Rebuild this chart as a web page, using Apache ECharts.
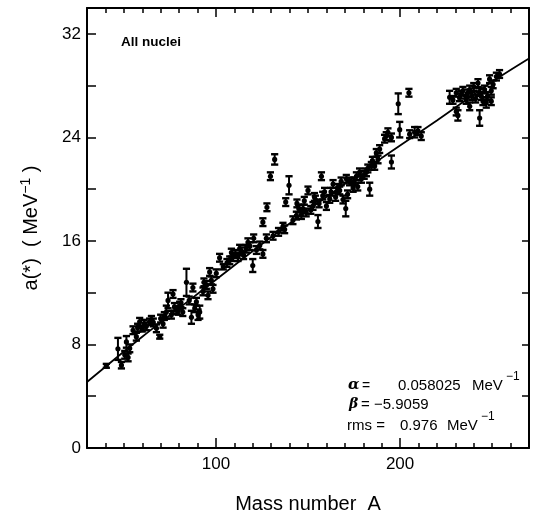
<!DOCTYPE html>
<html>
<head>
<meta charset="utf-8">
<script src="https://cdn.jsdelivr.net/npm/echarts@6/dist/echarts.min.js"></script>
<style>
  html, body { margin: 0; padding: 0; background: #fff; }
  #main { width: 536px; height: 519px; }
</style>
</head>
<body>
<div id="main"></div>
<script>
// mass number of each nucleus
var massA = [
  40.5, 46.8, 48.7, 50.5, 51.4, 52.3, 53.2, 55, 56.8, 58.6,
  60, 62.2, 64, 65, 67.7, 69.5, 71.3, 73.1, 74, 75.8,
  76.7, 78.5, 80.3, 82, 84, 86.7, 87.5, 88.5, 89.4, 90.3,
  91.2, 93, 93.5, 94.8, 95.7, 96.6, 97.5, 98.4, 100.2, 102,
  104, 107.5, 108.4, 109.3, 112, 112.9, 115, 116.5, 117.4, 120,
  120.5, 122, 123.8, 125.5, 125.5, 127.4, 127.7, 129.6, 131.9, 131,
  134, 136.4, 137.3, 137.9, 139.7, 141.8, 143.7, 145, 146.4, 147.3,
  148, 150, 151.5, 152.7, 154, 155.4, 157.3, 158, 160, 161.8,
  163.6, 165, 167.2, 169, 170.5, 170.8, 172.6, 174.5, 176.3, 178,
  179, 181.7, 183.5, 184.4, 186.2, 187.1, 188, 188.9, 191.6, 192.5,
  193.4, 195.3, 195.3, 199, 199.8, 204.8, 205.2, 207.9, 209.7, 211.5,
  226.9, 228.7, 230.5, 230.5, 231.4, 232.3, 234.1, 235.9, 237.8, 237.8,
  239, 241, 242.3, 243.2, 244.1, 245, 245.9, 246.8, 248.6, 249.5,
  249.5, 252.3, 254,
  106, 110.5, 114, 118.5, 144, 149, 153.5, 156, 159, 162.5,
  166, 168, 171.5, 175, 177, 180.5, 182.5, 185, 57.5, 61,
  66, 70, 72, 77.5, 79.5, 81, 85.5, 233, 236.5, 240,
  243, 247.5, 250.5
];
// level density parameter a(*) in MeV^-1
var aValue = [
  6.35, 7.66, 6.4, 7.2, 8.2, 7.0, 7.7, 9.1, 8.6, 9.75,
  9.2, 9.4, 9.75, 9.9, 9.25, 8.6, 9.6, 10.5, 11.4, 10.3,
  11.9, 10.65, 11.0, 10.5, 12.8, 10.1, 12.4, 10.8, 11.3, 10.3,
  10.5, 12.1, 12.8, 12.6, 11.8, 13.6, 12.95, 12.3, 13.5, 14.7,
  14.0, 14.5, 15.1, 14.75, 14.75, 15.4, 14.9, 15.4, 15.9, 14.1,
  16.2, 15.3, 15.65, 17.45, 15.0, 16.2, 18.6, 21.0, 22.3, 16.4,
  16.7, 17.1, 16.9, 19.0, 20.3, 17.6, 17.96, 18.5, 18.0, 18.5,
  19.1, 19.9, 18.4, 18.7, 19.2, 17.5, 21.0, 19.5, 18.7, 19.25,
  20.4, 19.4, 19.9, 19.2, 18.5, 20.8, 20.6, 20.1, 21.0, 21.3,
  20.8, 21.3, 20.0, 21.8, 21.8, 22.8, 22.3, 23.1, 23.9, 24.1,
  24.4, 22.1, 24.0, 26.6, 24.6, 27.45, 24.25, 24.4, 24.5, 24.1,
  27.1, 26.9, 27.45, 26.0, 25.7, 27.1, 27.6, 26.9, 27.7, 26.4,
  27.2, 27.0, 28.2, 25.5, 27.2, 26.8, 27.7, 26.7, 28.5, 27.6,
  26.8, 28.7, 28.9,
  14.3, 15.0, 15.2, 15.6, 18.9, 18.2, 19.4, 18.9, 19.8, 19.8,
  20.1, 20.6, 19.6, 20.6, 20.2, 21.1, 21.6, 22.2, 9.3, 9.6,
  9.7, 10.0, 10.2, 10.9, 10.6, 11.2, 11.4, 27.3, 27.4, 27.9,
  27.5, 27.2, 28.1
];
// half length of each error bar
var aError = [
  0.15, 0.85, 0.25, 0.3, 0.45, 0.3, 0.3, 0.3, 0.3, 0.3,
  0.2, 0.3, 0.25, 0.3, 0.3, 0.15, 0.3, 0.5, 0.6, 0.3,
  0.3, 0.3, 0.3, 0.3, 1.05, 0.5, 0.3, 0.3, 0.3, 0.4,
  0.5, 0.3, 0.3, 0.3, 0.3, 0.3, 0.3, 0.3, 0.3, 0.3,
  0.2, 0.3, 0.3, 0.3, 0.3, 0.3, 0.3, 0.3, 0.3, 0.5,
  0.3, 0.3, 0.3, 0.3, 0.3, 0.3, 0.3, 0.3, 0.4, 0.3,
  0.3, 0.3, 0.3, 0.3, 0.7, 0.3, 0.3, 0.3, 0.3, 0.3,
  0.3, 0.3, 0.3, 0.3, 0.3, 0.5, 0.3, 0.3, 0.3, 0.3,
  0.3, 0.3, 0.3, 0.3, 0.6, 0.3, 0.3, 0.3, 0.3, 0.3,
  0.3, 0.3, 0.5, 0.3, 0.3, 0.3, 0.3, 0.3, 0.3, 0.3,
  0.3, 0.5, 0.3, 0.8, 0.6, 0.3, 0.3, 0.4, 0.3, 0.3,
  0.5, 0.3, 0.3, 0.3, 0.4, 0.3, 0.3, 0.3, 0.3, 0.3,
  0.3, 0.3, 0.3, 0.6, 0.3, 0.3, 0.3, 0.4, 0.3, 0.3,
  0.3, 0.3, 0.3,
  0.3, 0.3, 0.3, 0.3, 0.3, 0.3, 0.3, 0.3, 0.3, 0.3,
  0.3, 0.3, 0.3, 0.3, 0.3, 0.3, 0.3, 0.3, 0.3, 0.3,
  0.3, 0.3, 0.3, 0.3, 0.3, 0.3, 0.3, 0.3, 0.3, 0.3,
  0.3, 0.3, 0.3
];
// fitted curve
var fitA = [30, 60, 100, 130, 160, 190, 220, 250, 270];
var fitValue = [5.1, 8.6, 13.0, 16.3, 19.4, 22.4, 25.3, 28.3, 30.1];

var xMajor = [100, 200];
var yLabels = [0, 8, 16, 24, 32];

var points = massA.map(function (A, i) {
  return [A, aValue[i], aError[i]];
});

var myChart = echarts.init(document.getElementById('main'));

var tickLine = { color: '#000', width: 1.5 };
var frameLine = { show: true, lineStyle: { color: '#000', width: 2 } };
var font = 'Liberation Sans, Arial, sans-serif';

var option = {
  backgroundColor: '#fff',
  animation: false,
  grid: { left: 87, right: 7, top: 8, bottom: 69 },
  xAxis: [
    {
      type: 'value', position: 'bottom', min: 30, max: 270, interval: 10,
      axisLine: frameLine,
      axisTick: { inside: true, length: 5, lineStyle: tickLine },
      axisLabel: {
        margin: 8, fontSize: 17, color: '#000', fontFamily: font,
        formatter: function (v) { return xMajor.indexOf(v) >= 0 ? String(v) : ''; }
      },
      splitLine: { show: false },
      name: 'Mass number  A', nameLocation: 'middle', nameGap: 46,
      nameTextStyle: { fontSize: 20, color: '#000', fontFamily: font }
    },
    {
      type: 'value', position: 'bottom', min: 30, max: 270,
      axisLine: { show: false },
      axisTick: { inside: true, length: 10, customValues: xMajor, lineStyle: tickLine },
      axisLabel: { show: false },
      splitLine: { show: false }
    },
    {
      type: 'value', position: 'top', min: 30, max: 270, interval: 10,
      axisLine: frameLine,
      axisTick: { inside: true, length: 5, lineStyle: tickLine },
      axisLabel: { show: false },
      splitLine: { show: false }
    },
    {
      type: 'value', position: 'top', min: 30, max: 270,
      axisLine: { show: false },
      axisTick: { inside: true, length: 9, customValues: xMajor, lineStyle: tickLine },
      axisLabel: { show: false },
      splitLine: { show: false }
    }
  ],
  yAxis: [
    {
      type: 'value', position: 'left', min: 0, max: 34, interval: 4,
      axisLine: frameLine,
      axisTick: { inside: true, length: 9, lineStyle: tickLine },
      axisLabel: {
        margin: 6, fontSize: 17, color: '#000', fontFamily: font,
        formatter: function (v) { return yLabels.indexOf(v) >= 0 ? String(v) : ''; }
      },
      splitLine: { show: false },
      name: '{t|a(*)  ( MeV}{s|−1}{t| )}', nameLocation: 'middle', nameGap: 44,
      nameTextStyle: {
        rich: {
          t: { fontSize: 20, color: '#000', fontFamily: font },
          s: { fontSize: 14, color: '#000', fontFamily: font, verticalAlign: 'top', padding: [0, 0, 10, 0] }
        }
      }
    },
    {
      type: 'value', position: 'right', min: 0, max: 34, interval: 4,
      axisLine: frameLine,
      axisTick: { inside: true, length: 7, lineStyle: tickLine },
      axisLabel: { show: false },
      splitLine: { show: false }
    }
  ],
  graphic: [
    { type: 'text', left: 121, top: 35, style: { text: 'All nuclei', fontSize: 13.5, fontWeight: 'bold', fill: '#000', fontFamily: font } },
    { type: 'text', left: 348, top: 378, style: { text: 'α', fontSize: 15, fontStyle: 'italic', fontWeight: 'bold', fill: '#000', fontFamily: 'DejaVu Serif' } },
    { type: 'text', left: 362, top: 379, style: { text: '=', fontSize: 14, fill: '#000', fontFamily: font } },
    { type: 'text', left: 398, top: 378, style: { text: '0.058025', fontSize: 15, fill: '#000', fontFamily: font } },
    { type: 'text', left: 472, top: 378, style: { text: 'MeV', fontSize: 15, fill: '#000', fontFamily: font } },
    { type: 'text', left: 506, top: 371, style: { text: '−1', fontSize: 12, fill: '#000', fontFamily: font } },
    { type: 'text', left: 349, top: 397, style: { text: 'β', fontSize: 14, fontStyle: 'italic', fontWeight: 'bold', fill: '#000', fontFamily: 'DejaVu Serif' } },
    { type: 'text', left: 361, top: 397, style: { text: '= −5.9059', fontSize: 15, fill: '#000', fontFamily: font } },
    { type: 'text', left: 347, top: 418, style: { text: 'rms =', fontSize: 15, fill: '#000', fontFamily: font } },
    { type: 'text', left: 400, top: 418, style: { text: '0.976', fontSize: 15, fill: '#000', fontFamily: font } },
    { type: 'text', left: 447, top: 418, style: { text: 'MeV', fontSize: 15, fill: '#000', fontFamily: font } },
    { type: 'text', left: 481, top: 411, style: { text: '−1', fontSize: 12, fill: '#000', fontFamily: font } }
  ],
  series: [
    {
      name: 'fit', type: 'line', xAxisIndex: 0, yAxisIndex: 0,
      data: fitA.map(function (A, i) { return [A, fitValue[i]]; }),
      smooth: 0.3, showSymbol: false, symbol: 'none',
      lineStyle: { color: '#000', width: 1.8 }, z: 3
    },
    {
      name: 'data', type: 'custom', xAxisIndex: 0, yAxisIndex: 0,
      data: points,
      renderItem: function (params, api) {
        var A = api.value(0), v = api.value(1), e = api.value(2);
        var c = api.coord([A, v]);
        var hi = api.coord([A, v + e]);
        var lo = api.coord([A, v - e]);
        var w = 3.6;
        var cap = { stroke: '#000', lineWidth: 2.4 };
        return {
          type: 'group',
          children: [
            { type: 'line', shape: { x1: c[0], y1: hi[1], x2: c[0], y2: lo[1] }, style: { stroke: '#000', lineWidth: 2 } },
            { type: 'line', shape: { x1: c[0] - w, y1: hi[1], x2: c[0] + w, y2: hi[1] }, style: cap },
            { type: 'line', shape: { x1: c[0] - w, y1: lo[1], x2: c[0] + w, y2: lo[1] }, style: cap },
            { type: 'circle', shape: { cx: c[0], cy: c[1], r: 2.6 }, style: { fill: '#000' } }
          ]
        };
      },
      z: 4
    }
  ]
};

myChart.setOption(option);
</script>
</body>
</html>
